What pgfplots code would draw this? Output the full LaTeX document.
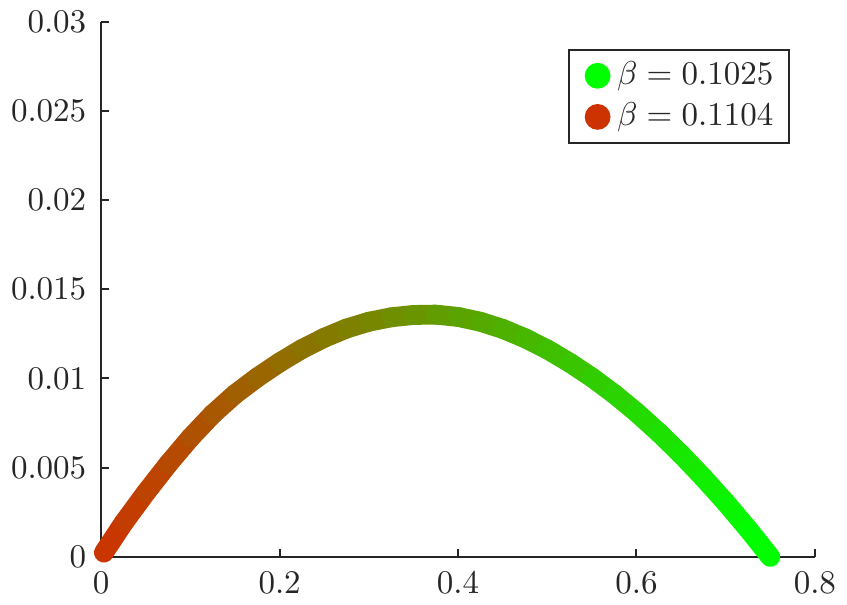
\documentclass[border=0pt]{standalone}
\usepackage{pgfplots}
\pgfplotsset{compat=1.18}
\definecolor{axgray}{rgb}{0.15,0.15,0.15}
\definecolor{betagreen}{rgb}{0,1,0}
\definecolor{betared}{rgb}{0.8,0.2,0}
\begin{document}
\begin{tikzpicture}
\begin{axis}[
    width=216pt, height=162pt, scale only axis,
    xmin=0, xmax=0.8, ymin=0, ymax=0.03,
    axis lines=left,
    axis line style={-, line width=0.6pt, color=axgray},
    tick align=inside,
    major tick length=2.4pt,
    tick style={line width=0.6pt, color=axgray},
    scaled x ticks=false, scaled y ticks=false,
    xtick={0,0.2,0.4,0.6,0.8},
    xticklabels={$0$,$0.2$,$0.4$,$0.6$,$0.8$},
    ytick={0,0.005,0.01,0.015,0.02,0.025,0.03},
    yticklabels={$0$,$0.005$,$0.01$,$0.015$,$0.02$,$0.025$,$0.03$},
    xticklabel style={yshift=-1pt, text=axgray},
    yticklabel style={xshift=-1pt, text=axgray},
    clip=false,
    colormap={betamap}{rgb255=(204,51,0) rgb255=(0,255,0)},
    legend style={at={(0.965,0.949)}, anchor=north east,
        draw=axgray, line width=0.6pt, text=axgray,
        inner xsep=2.7pt, inner ysep=1.6pt, row sep=0pt},
    legend cell align={left},
]
\addlegendimage{legend image code/.code={\path (0pt,0pt) (9.3pt,0pt);
    \fill[betagreen, overlay] (5.7pt,0pt) circle (3.6pt);}}
\addlegendentry{$\beta = 0.1025$}
\addlegendimage{legend image code/.code={\path (0pt,0pt) (9.3pt,0pt);
    \fill[betared, overlay] (5.7pt,0pt) circle (3.6pt);}}
\addlegendentry{$\beta = 0.1104$}
% trajectory coloured by beta (red -> green)
\addplot[mesh, point meta=x, point meta min=0.003, point meta max=0.75,
    colormap name=betamap, line width=6pt, line cap=round, line join=round,
    forget plot] table {
0.003 0.00024
0.025 0.00190
0.050 0.00360
0.075 0.00520
0.100 0.00668
0.125 0.00800
0.150 0.00912
0.175 0.01006
0.200 0.01090
0.225 0.01165
0.250 0.01228
0.275 0.01280
0.300 0.01318
0.325 0.01343
0.350 0.01356
0.375 0.01358
0.400 0.01345
0.425 0.01318
0.450 0.01278
0.475 0.01226
0.500 0.01163
0.525 0.01089
0.550 0.01006
0.575 0.00913
0.600 0.00810
0.625 0.00697
0.650 0.00575
0.675 0.00444
0.700 0.00305
0.725 0.00157
0.750 0.00000
};
\end{axis}
\end{tikzpicture}
\end{document}
